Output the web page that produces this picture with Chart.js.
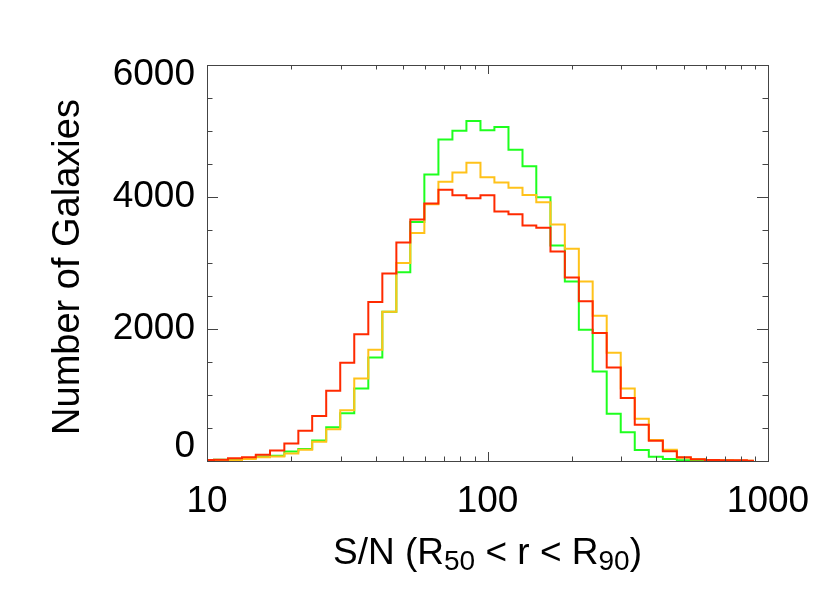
<!DOCTYPE html>
<html>
<head>
<meta charset="utf-8">
<script src="https://cdn.jsdelivr.net/npm/chart.js@4.4.1/dist/chart.umd.min.js"></script>
<style>
  body { margin: 0; background: #fff; }
  #wrap { width: 830px; height: 593px; }
</style>
</head>
<body>
<div id="wrap"><canvas id="grafica" width="830" height="593"></canvas></div>
<script>
// bin centres of the S/N histogram (0.05 dex bins)
const binCenters = [10.0, 11.2, 12.6, 14.1, 15.8, 17.8, 20.0, 22.4, 25.1, 28.2,
  31.6, 35.5, 39.8, 44.7, 50.1, 56.2, 63.1, 70.8, 79.4, 89.1,
  100, 112, 126, 141, 158, 178, 200, 224, 251, 282,
  316, 355, 398, 447, 501, 562, 631, 708, 794, 891];

const countsRed = [15, 20, 40, 55, 95, 160, 265, 460, 680, 1065,
  1490, 1920, 2410, 2840, 3310, 3660, 3900, 4110, 4025, 3980,
  4025, 3780, 3740, 3570, 3535, 3175, 2780, 2420, 1940, 1415,
  955, 550, 308, 146, 55, 25, 15, 10, 10, 5];

const countsOrange = [5, 5, 10, 30, 55, 70, 115, 170, 290, 480,
  770, 1250, 1685, 2260, 3000, 3455, 3890, 4230, 4370, 4520,
  4300, 4220, 4140, 4030, 3920, 3585, 3215, 2720, 2200, 1640,
  1100, 640, 320, 170, 50, 25, 12, 10, 8, 5];

const countsGreen = [15, 20, 25, 45, 70, 80, 145, 180, 310, 510,
  725, 1100, 1570, 2260, 2860, 3620, 4340, 4870, 5005, 5150,
  5010, 5060, 4715, 4465, 3995, 3265, 2720, 1990, 1355, 715,
  435, 165, 65, 30, 10, 5, 3, 2, 0, 0];

const xTicks = [10, 100, 1000];
const xMinorTicks = [20, 30, 40, 50, 60, 70, 80, 90, 200, 300, 400, 500, 600, 700, 800, 900];
const yTicks = [0, 2000, 4000, 6000];
const yMinorTicks = [500, 1000, 1500, 2500, 3000, 3500, 4500, 5000, 5500];

const FONT = '"Liberation Sans", Arial, Helvetica, sans-serif';
const AXIS = '#444';

function serie(valores) {
  return binCenters.map((x, i) => ({ x: x, y: valores[i] }));
}

// frame, inward ticks, labels and titles in IDL style
const ejesIDL = {
  id: 'ejesIDL',
  afterDraw(chart) {
    const ctx = chart.ctx;
    const a = chart.chartArea;
    const sx = chart.scales.x;
    const sy = chart.scales.y;

    ctx.save();
    ctx.strokeStyle = AXIS;
    ctx.lineWidth = 1;
    ctx.strokeRect(Math.round(a.left) + 0.5, Math.round(a.top) + 0.5,
      Math.round(a.right - a.left), Math.round(a.bottom - a.top));

    ctx.beginPath();
    const xt = (v, len) => {
      const p = Math.round(sx.getPixelForValue(v)) + 0.5;
      ctx.moveTo(p, a.bottom); ctx.lineTo(p, a.bottom - len);
      ctx.moveTo(p, a.top); ctx.lineTo(p, a.top + len);
    };
    const yt = (v, len) => {
      const p = Math.round(sy.getPixelForValue(v)) + 0.5;
      ctx.moveTo(a.left, p); ctx.lineTo(a.left + len, p);
      ctx.moveTo(a.right, p); ctx.lineTo(a.right - len, p);
    };
    xTicks.forEach(v => xt(v, 9));
    xMinorTicks.forEach(v => xt(v, 4.5));
    yTicks.forEach(v => yt(v, 11));
    yMinorTicks.forEach(v => yt(v, 5.5));
    ctx.stroke();

    ctx.fillStyle = '#000';
    ctx.font = '37px ' + FONT;

    // y tick labels
    ctx.textAlign = 'right';
    ctx.textBaseline = 'middle';
    yTicks.forEach(v => {
      let p = sy.getPixelForValue(v);
      p = Math.min(Math.max(p, a.top + 10), a.bottom - 14.5);
      ctx.fillText(String(v), a.left - 12, p);
    });

    // x tick labels
    ctx.textAlign = 'center';
    ctx.textBaseline = 'alphabetic';
    xTicks.forEach(v => {
      ctx.fillText(String(v), sx.getPixelForValue(v), 512);
    });

    // y title
    ctx.save();
    ctx.font = '38px ' + FONT;
    ctx.translate(79, (a.top + a.bottom) / 2 + 4);
    ctx.rotate(-Math.PI / 2);
    ctx.textAlign = 'center';
    ctx.fillText('Number of Galaxies', 0, 0);
    ctx.restore();

    // x title with subscripts
    const trozos = [
      ['S/N (R', false], ['50', true], [' < r < R', false], ['90', true], [')', false]
    ];
    const fMain = '37px ' + FONT;
    const fSub = '28px ' + FONT;
    let ancho = 0;
    trozos.forEach(([t, sub]) => {
      ctx.font = sub ? fSub : fMain;
      ancho += ctx.measureText(t).width;
    });
    let x = (a.left + a.right) / 2 - ancho / 2;
    ctx.textAlign = 'left';
    trozos.forEach(([t, sub]) => {
      ctx.font = sub ? fSub : fMain;
      ctx.fillText(t, x, sub ? 570 : 564);
      x += ctx.measureText(t).width;
    });
    ctx.restore();
  }
};

new Chart(document.getElementById('grafica'), {
  type: 'line',
  data: {
    datasets: [
      { label: 'rojo', data: serie(countsRed), borderColor: '#ff2a00' },
      { label: 'naranja', data: serie(countsOrange), borderColor: '#ffc21a' },
      { label: 'verde', data: serie(countsGreen), borderColor: '#1eff1e' }
    ]
  },
  options: {
    responsive: false,
    animation: false,
    layout: { padding: { left: 207, top: 65, right: 62, bottom: 132 } },
    elements: {
      line: { borderWidth: 2, stepped: 'middle', fill: false, tension: 0 },
      point: { radius: 0, hoverRadius: 0 }
    },
    plugins: {
      legend: { display: false },
      tooltip: { enabled: false }
    },
    scales: {
      x: { type: 'logarithmic', min: 10, max: 1000, display: false },
      y: { type: 'linear', min: 0, max: 6000, display: false }
    }
  },
  plugins: [ejesIDL]
});
</script>
</body>
</html>
